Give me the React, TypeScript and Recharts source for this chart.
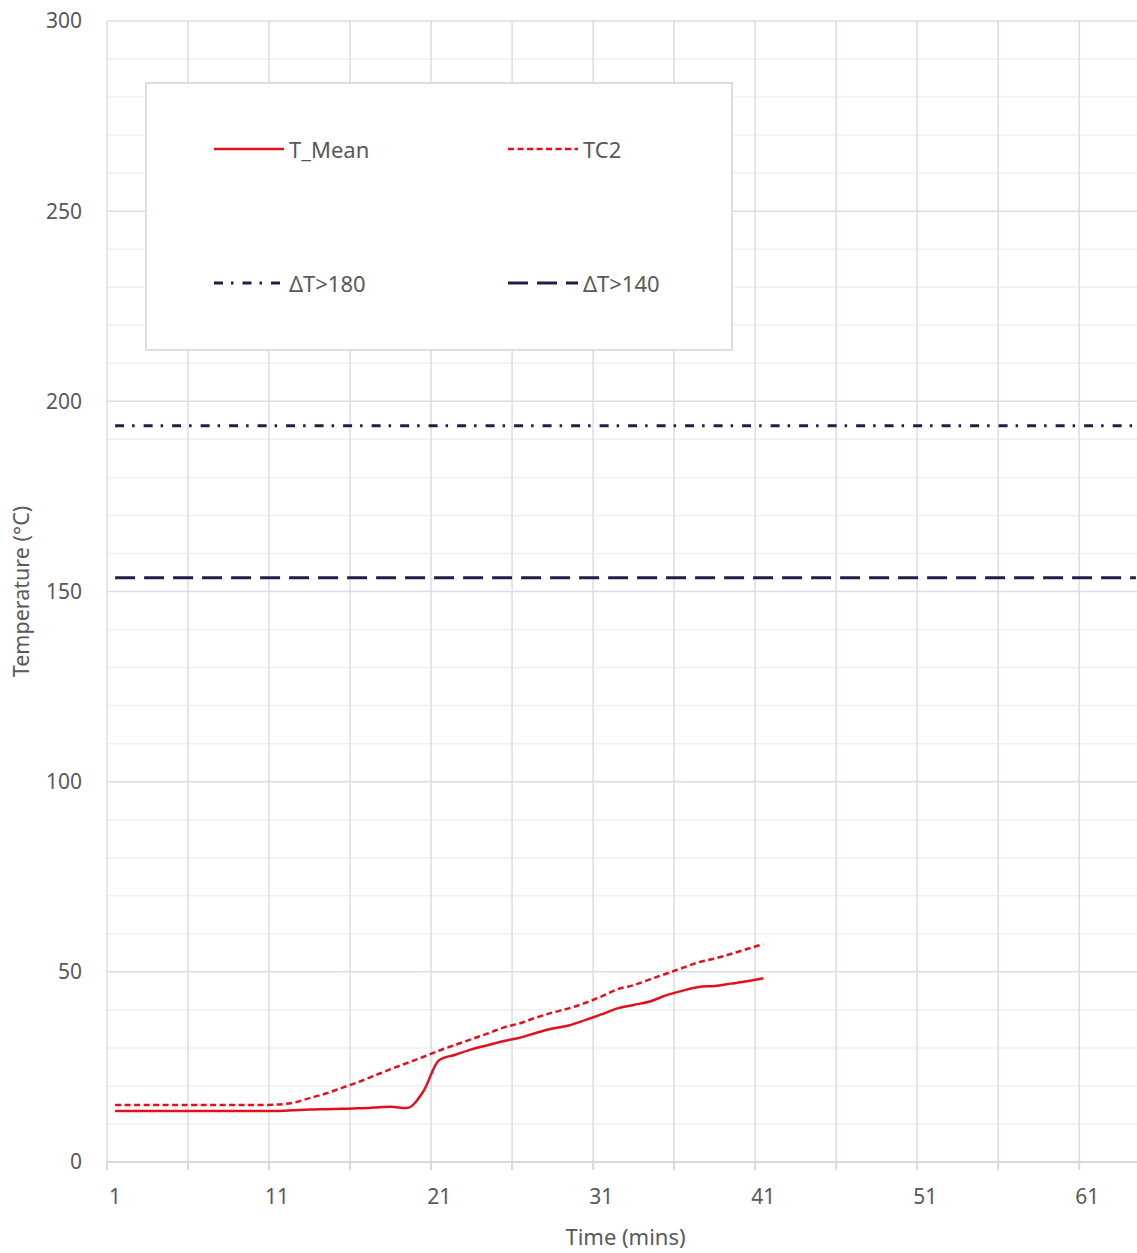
import {
  LineChart,
  Line,
  XAxis,
  YAxis,
  CartesianGrid,
  Legend,
  ReferenceLine,
} from 'recharts'

const FONT = '"Noto Sans", "Open Sans", sans-serif'
const TEXT = '#595959'

// readings per minute, 1..41
const T_MEAN = [
  13.4, 13.4, 13.4, 13.4, 13.4, 13.4, 13.4, 13.4, 13.4, 13.4,
  13.4, 13.6, 13.8, 13.9, 14.0, 14.1, 14.3, 14.5, 14.2, 18.4,
  26.8, 28.2, 29.6, 30.7, 31.8, 32.7, 34.0, 35.1, 35.9, 37.3,
  38.8, 40.4, 41.3, 42.2, 43.8, 45.0, 46.0, 46.3, 46.9, 47.5,
  48.3,
]
const TC2 = [
  15.0, 15.0, 15.0, 15.0, 15.0, 15.0, 15.0, 15.0, 15.0, 15.0,
  15.1, 15.6, 16.8, 18.0, 19.5, 21.0, 22.7, 24.4, 26.0, 27.6,
  29.3, 30.8, 32.3, 33.8, 35.4, 36.5, 38.0, 39.3, 40.4, 41.8,
  43.5, 45.4, 46.5, 48.0, 49.5, 51.0, 52.5, 53.5, 54.7, 56.0,
  57.3,
]
const LIMIT_180 = 193.6
const LIMIT_140 = 153.6
const LIMIT_START = 1
const LIMIT_END = 64

const X_DOMAIN: [number, number] = [0.5, 64.5]
const Y_DOMAIN: [number, number] = [0, 300]
const X_LABELS = [1, 11, 21, 31, 41, 51, 61]
const X_MARKS = [0.5, 5.5, 10.5, 15.5, 20.5, 25.5, 30.5, 35.5, 40.5, 45.5, 50.5, 55.5, 60.5]
const Y_TICKS = [0, 50, 100, 150, 200, 250, 300]
const Y_MINOR = [10, 20, 30, 40, 60, 70, 80, 90, 110, 120, 130, 140, 160, 170, 180, 190, 210, 220, 230, 240, 260, 270, 280, 290]

const SERIES = [
  { key: 'tMean', name: 'T_Mean', color: '#e3101c', dash: undefined },
  { key: 'tc2', name: 'TC2', color: '#e3101c', dash: '6 3.5' },
  { key: 'l180', name: 'ΔT>180', color: '#2a1a48', dash: '9 8 2.5 9' },
  { key: 'l140', name: 'ΔT>140', color: '#2a1a48', dash: '20 9' },
]

const data = T_MEAN.map((v, i) => ({ minute: i + 1, tMean: v, tc2: TC2[i] }))

const allXTicks = [...X_LABELS, ...X_MARKS].sort((a, b) => a - b)

// grid positions from the plot box and the axis domains
const yPos = (offset: any, v: number) =>
  offset.top + offset.height * (1 - (v - Y_DOMAIN[0]) / (Y_DOMAIN[1] - Y_DOMAIN[0]))
const xPos = (offset: any, v: number) =>
  offset.left + offset.width * ((v - X_DOMAIN[0]) / (X_DOMAIN[1] - X_DOMAIN[0]))

function XTick(props: any) {
  const { x, y, payload } = props
  const v = payload.value
  if (Number.isInteger(v)) {
    return (
      <text x={x} y={y + 42} textAnchor="middle" fill={TEXT} fontSize={21} fontFamily={FONT}>
        {v}
      </text>
    )
  }
  return <line x1={x} x2={x} y1={y} y2={y + 8} stroke="#d9d9d9" strokeWidth={2} />
}

function LegendBox() {
  return (
    <div
      style={{
        width: 588,
        height: 269,
        boxSizing: 'border-box',
        border: '2px solid #dcdcea',
        background: '#fff',
        position: 'relative',
        fontFamily: FONT,
        fontSize: 22,
        color: TEXT,
      }}
    >
      {SERIES.map((s, i) => (
        <div
          key={s.key}
          style={{
            position: 'absolute',
            left: i % 2 === 0 ? 66 : 360,
            top: i < 2 ? 50 : 184,
            display: 'flex',
            alignItems: 'center',
            height: 30,
          }}
        >
          <svg width={72} height={10} style={{ marginRight: 4 }}>
            <line x1={1} x2={71} y1={5} y2={5} stroke={s.color} strokeWidth={s.key.startsWith('l') ? 3 : 2.5} strokeDasharray={s.dash} />
          </svg>
          <span>{s.name}</span>
        </div>
      ))}
    </div>
  )
}

export default function App() {
  return (
    <div style={{ position: 'absolute', left: 0, top: 0, width: 1137, height: 1253, overflow: 'hidden', background: '#fff' }}>
      <LineChart
        width={1144}
        height={1253}
        data={data}
        margin={{ top: 21, right: 0, left: 0, bottom: 0 }}
      >
        <CartesianGrid
          vertical={false}
          stroke="#f0f0f0"
          strokeWidth={1.5}
          horizontalCoordinatesGenerator={({ offset }: any) => Y_MINOR.map((v) => yPos(offset, v))}
        />
        <CartesianGrid
          stroke="#dcdcea"
          strokeWidth={1.5}
          horizontalCoordinatesGenerator={({ offset }: any) => Y_TICKS.filter((v) => v > 0).map((v) => yPos(offset, v))}
          verticalCoordinatesGenerator={({ offset }: any) => X_MARKS.map((v) => xPos(offset, v))}
        />
        <XAxis
          dataKey="minute"
          type="number"
          domain={X_DOMAIN}
          ticks={allXTicks}
          interval={0}
          height={91}
          tickLine={false}
          tickSize={0}
          tickMargin={0}
          tick={<XTick />}
          axisLine={{ stroke: '#d9d9d9', strokeWidth: 2 }}
          label={{
            content: ({ viewBox }: any) => (
              <text
                x={viewBox.x + viewBox.width / 2}
                y={viewBox.y + 83}
                textAnchor="middle"
                fill={TEXT}
                fontSize={22}
                fontFamily={FONT}
              >
                Time (mins)
              </text>
            ),
          }}
        />
        <YAxis
          type="number"
          domain={Y_DOMAIN}
          ticks={Y_TICKS}
          width={107}
          axisLine={false}
          tickLine={false}
          tickSize={0}
          tickMargin={25}
          tick={{ fill: TEXT, fontSize: 21, fontFamily: FONT }}
          label={{
            content: ({ viewBox }: any) => (
              <text
                x={viewBox.x + 29}
                y={viewBox.y + viewBox.height / 2}
                transform={`rotate(-90 ${viewBox.x + 29} ${viewBox.y + viewBox.height / 2})`}
                textAnchor="middle"
                fill={TEXT}
                fontSize={21.5}
                fontFamily={FONT}
              >
                Temperature (°C)
              </text>
            ),
          }}
        />
        <ReferenceLine
          segment={[{ x: LIMIT_START, y: LIMIT_180 }, { x: LIMIT_END, y: LIMIT_180 }]}
          stroke={SERIES[2].color}
          strokeWidth={3}
          strokeDasharray={SERIES[2].dash}
        />
        <ReferenceLine
          segment={[{ x: LIMIT_START, y: LIMIT_140 }, { x: LIMIT_END, y: LIMIT_140 }]}
          stroke={SERIES[3].color}
          strokeWidth={3}
          strokeDasharray={SERIES[3].dash}
        />
        <Line
          type="monotone"
          dataKey="tMean"
          name="T_Mean"
          stroke={SERIES[0].color}
          strokeWidth={2.5}
          dot={false}
          isAnimationActive={false}
        />
        <Line
          type="monotone"
          dataKey="tc2"
          name="TC2"
          stroke={SERIES[1].color}
          strokeWidth={2.5}
          strokeDasharray={SERIES[1].dash}
          dot={false}
          isAnimationActive={false}
        />
        <Legend
          layout="horizontal"
          verticalAlign="middle"
          align="center"
          content={() => <LegendBox />}
          wrapperStyle={{ left: 145, top: 82, width: 588, height: 269 }}
        />
      </LineChart>
    </div>
  )
}
